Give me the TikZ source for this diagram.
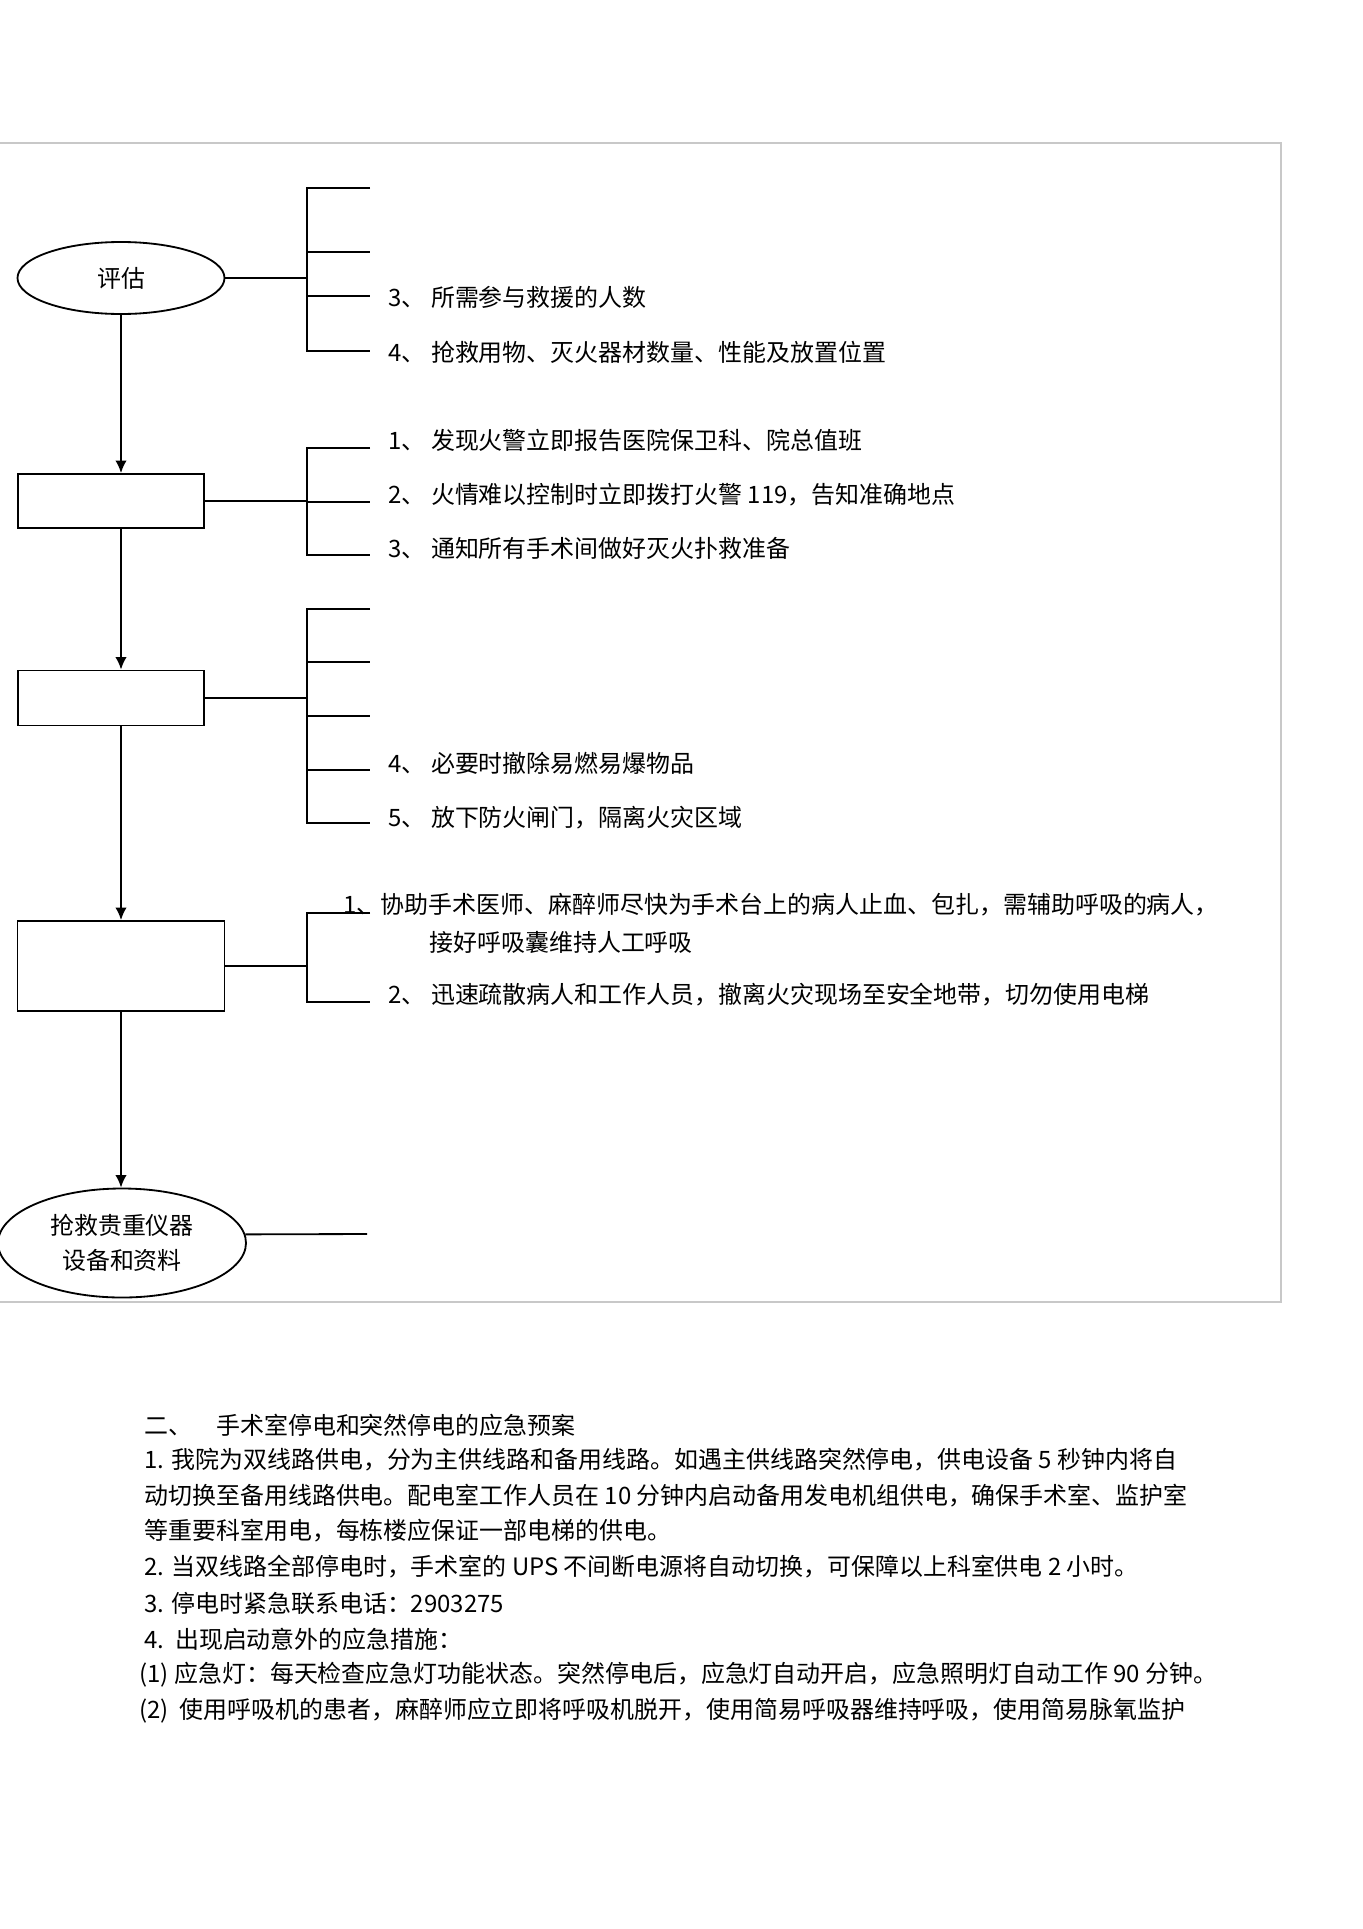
\documentclass[tikz,border=0pt]{standalone}
\usepackage{fontspec}
\setmainfont{Noto Sans CJK SC}
\usepackage{tikz}
\usetikzlibrary{positioning,shapes,arrows.meta}
\definecolor{framegray}{RGB}{200,200,200}
\newlength\pxu
\setlength\pxu{0.015407cm}

\begin{document}
\begin{tikzpicture}[x=0.015407cm, y=-0.015407cm, font=\fontsize{10.5pt}{12pt}\selectfont,
  oval/.style={draw, ellipse, line width=0.8pt, inner sep=0pt},
  stepbox/.style={draw, rectangle, line width=0.8pt, inner sep=0pt},
  item/.style={anchor=west, inner sep=0pt},
  link/.style={line width=0.8pt},
  >={Latex[length=5.5pt,width=5pt]}]
\useasboundingbox (0,0) rectangle (1363,1929);

% frame
\draw[framegray, line width=0.6pt] (-5,143) -- (1281,143) -- (1281,1302) -- (-5,1302);

% flow
\node[oval, minimum width=207\pxu, minimum height=72\pxu] (assess) at (121,278) {评估};
\node[stepbox, minimum width=186\pxu, minimum height=54\pxu] (alarm) at (111,501) {};
\node[stepbox, minimum width=186\pxu, minimum height=55\pxu] (contain) at (111,698) {};
\node[stepbox, minimum width=207\pxu, minimum height=90\pxu] (evacuate) at (121,966) {};
\node[oval, minimum width=248\pxu, minimum height=109\pxu, align=center,
  font=\fontsize{10.5pt}{15.3pt}\selectfont] (salvage) at (122,1243) {抢救贵重仪器\\设备和资料};

\draw[->, link] (assess.south) -- (assess.south |- alarm.north);
\draw[->, link] (assess.south |- alarm.south) -- (assess.south |- contain.north);
\draw[->, link] (assess.south |- contain.south) -- (assess.south |- evacuate.north);
\draw[->, link] (assess.south |- evacuate.south) -- (assess.south |- salvage.north);

% brackets
\coordinate (spineA) at (307,188);
\coordinate (spineB) at (307,448);
\coordinate (spineC) at (307,609);
\coordinate (spineD) at (307,913);
\coordinate (salvageend) at (367,1234);

\draw[link] (assess.east) -- (assess.east -| spineA);
\draw[link] (370,188) -| (307,351) -- (370,351);
\foreach \y in {252,296} \draw[link] (307,\y) -- (370,\y);

\draw[link] (alarm.east) -- (alarm.east -| spineB);
\draw[link] (370,448) -| (307,555) -- (370,555);
\draw[link] (307,502) -- (370,502);

\draw[link] (contain.east) -- (contain.east -| spineC);
\draw[link] (370,609) -| (307,823) -- (370,823);
\foreach \y in {662,716,770} \draw[link] (307,\y) -- (370,\y);

\draw[link] (evacuate.east) -- (evacuate.east -| spineD);
\draw[link] (370,913) -| (307,1002) -- (370,1002);

\draw[link] (salvage.4) -- (salvageend);

% items
\node[item] (a3) at (388,297) {3、 所需参与救援的人数};
\node[item] (a4) at (388,352) {4、 抢救用物、灭火器材数量、性能及放置位置};
\node[item] (b1) at (388,440) {1、 发现火警立即报告医院保卫科、院总值班};
\node[item] (b2) at (388,495) {2、 火情难以控制时立即拨打火警 119，告知准确地点};
\node[item] (b3) at (388,548) {3、 通知所有手术间做好灭火扑救准备};
\node[item] (c4) at (388,763) {4、 必要时撤除易燃易爆物品};
\node[item] (c5) at (388,818) {5、 放下防火闸门，隔离火灾区域};
\node[item] (d1) at (343,905) {1、协助手术医师、麻醉师尽快为手术台上的病人止血、包扎，需辅助呼吸的病人，};
\node[item] (d1b) at (429,942) {接好呼吸囊维持人工呼吸};
\node[item] (d2) at (388,995) {2、 迅速疏散病人和工作人员，撤离火灾现场至安全地带，切勿使用电梯};

% section two
\node[item] (s0) at (144,1425) {二、\quad 手术室停电和突然停电的应急预案};
\node[item] (s1) at (144,1460) {1. 我院为双线路供电，分为主供线路和备用线路。如遇主供线路突然停电，供电设备 5 秒钟内将自};
\node[item] (s1b) at (144,1496) {动切换至备用线路供电。配电室工作人员在 10 分钟内启动备用发电机组供电，确保手术室、监护室};
\node[item] (s1c) at (144,1531) {等重要科室用电，每栋楼应保证一部电梯的供电。};
\node[item] (s2) at (144,1567) {2. 当双线路全部停电时，手术室的 UPS 不间断电源将自动切换，可保障以上科室供电 2 小时。};
\node[item] (s3) at (144,1603) {3. 停电时紧急联系电话：2903275};
\node[item] (s4) at (144,1639) {4.\ \ 出现启动意外的应急措施：};
\node[item] (s41) at (139,1675) {(1) 应急灯：每天检查应急灯功能状态。突然停电后，应急灯自动开启，应急照明灯自动工作 90 分钟。};
\node[item] (s42) at (139,1711) {(2)\ \ 使用呼吸机的患者，麻醉师应立即将呼吸机脱开，使用简易呼吸器维持呼吸，使用简易脉氧监护};
\end{tikzpicture}
\end{document}
